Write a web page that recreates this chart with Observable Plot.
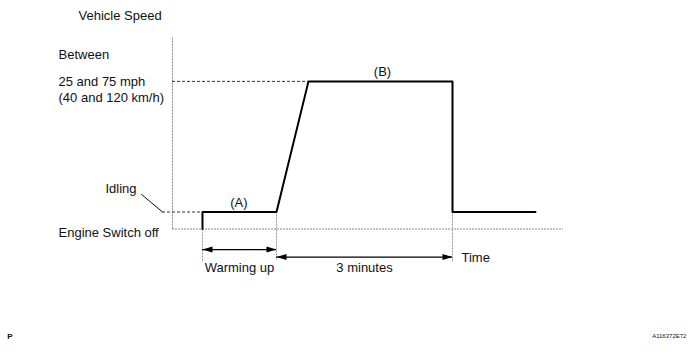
<!DOCTYPE html>
<html>
<head>
<meta charset="utf-8">
<script src="https://cdn.jsdelivr.net/npm/d3@7"></script>
<script src="https://cdn.jsdelivr.net/npm/@observablehq/plot@0.6"></script>
<style>
  html, body { margin: 0; padding: 0; background: #fff; }
</style>
</head>
<body>
<div id="chart"></div>
<script>
// Time in minutes (schematic), speed as schematic level (0 = engine off, 1 = idling)
const timeMin    = [0.511, 0.511, 1.773, 2.318, 4.773, 4.773, 6.187];
const speedLevel = [0,     1,     1,     8.68,  8.68,  1,     1];

const axisEndTime = 6.665;
const axisTopLevel = 11.26;
const idleLevel = 1;
const targetLevel = 8.68;
const warmStart = 0.511, warmEnd = 1.773, driveEnd = 4.773, rampEnd = 2.318;

// left-side level labels
const levelLabels = ["Between", "25 and 75 mph", "(40 and 120 km/h)", "Engine Switch off"];
const levelLabelY = [10.26, 8.68, 7.74, -0.21];

const mainLine = timeMin.map((t, i) => ({t, v: speedLevel[i]}));

const guides = [
  {t: warmStart, v1: 0, v2: -1.97},
  {t: warmEnd, v1: idleLevel, v2: -1.85},
  {t: driveEnd, v1: idleLevel, v2: -1.97}
];

const spans = [
  {t1: warmStart, t2: warmEnd, v: -1.21, label: "Warming up"},
  {t1: warmEnd, t2: driveEnd, v: -1.65, label: "3 minutes"}
];

const headRight = {draw(ctx) { ctx.moveTo(0, 0); ctx.lineTo(-10, -3); ctx.lineTo(-10, 3); ctx.closePath(); }};
const headLeft  = {draw(ctx) { ctx.moveTo(0, 0); ctx.lineTo(10, -3); ctx.lineTo(10, 3); ctx.closePath(); }};

const font = "'Liberation Sans', Arial, Helvetica, sans-serif";

const chart = Plot.plot({
  width: 693,
  height: 352,
  marginLeft: 172,
  marginRight: 130,
  marginTop: 37,
  marginBottom: 123.5,
  x: {domain: [0, axisEndTime], axis: null},
  y: {domain: [0, axisTopLevel], axis: null},
  style: {fontFamily: font, fontSize: "13px", background: "#fff", color: "#111", overflow: "visible"},
  marks: [
    // axes (dotted)
    Plot.ruleX([0], {y1: 0, y2: axisTopLevel, stroke: "#888", strokeWidth: 1, strokeDasharray: "2,1"}),
    Plot.ruleY([0], {x1: 0, x2: axisEndTime, stroke: "#888", strokeWidth: 1, strokeDasharray: "2,1"}),
    // vertical guides
    Plot.ruleX(guides, {x: "t", y1: "v1", y2: "v2", stroke: "#999", strokeWidth: 1, strokeDasharray: "2,1"}),
    // dashed reference levels
    Plot.ruleY([targetLevel], {x1: 0, x2: rampEnd, stroke: "#333", strokeWidth: 1, strokeDasharray: "3,2"}),
    Plot.ruleY([idleLevel], {x1: -0.17, x2: warmStart, stroke: "#333", strokeWidth: 1, strokeDasharray: "3,2"}),
    // Idling leader
    Plot.line([{t: -0.528, v: 2.03}, {t: -0.17, v: 1}], {x: "t", y: "v", stroke: "#111", strokeWidth: 1}),
    // main speed trace
    Plot.line(mainLine, {x: "t", y: "v", stroke: "#000", strokeWidth: 2, curve: "linear"}),
    // arrows
    Plot.ruleY(spans, {x1: "t1", x2: "t2", y: "v", stroke: "#000", strokeWidth: 1.2}),
    Plot.dot(spans, {x: "t2", y: "v", symbol: headRight, fill: "#000", stroke: "none"}),
    Plot.dot(spans, {x: "t1", y: "v", symbol: headLeft, fill: "#000", stroke: "none"}),
    Plot.text(spans, {x: d => (d.t1 + d.t2) / 2, y: () => -2.26, text: "label", fontSize: 13, fill: "#111"}),
    // labels
    Plot.text(["Vehicle Speed"], {x: () => -1.602, y: () => 12.56, text: d => d, textAnchor: "start", fontSize: 13, fill: "#111"}),
    Plot.text(levelLabels, {x: () => -1.943, y: (d, i) => levelLabelY[i], text: d => d, textAnchor: "start", fontSize: 13, fill: "#111"}),
    Plot.text(["Idling"], {x: () => -1.142, y: () => 2.38, text: d => d, textAnchor: "start", fontSize: 13, fill: "#111"}),
    Plot.text(["(A)"], {x: () => 1.133, y: () => 1.56, text: d => d, fontSize: 13, fill: "#111"}),
    Plot.text(["(B)"], {x: () => 3.58, y: () => 9.26, text: d => d, fontSize: 13, fill: "#111"}),
    Plot.text(["Time"], {x: () => 4.926, y: () => -1.68, text: d => d, textAnchor: "start", fontSize: 13, fill: "#111"}),
    Plot.text(["P"], {x: () => -2.77, y: () => -6.32, text: d => d, fontSize: 8, fontWeight: "bold", fill: "#111"}),
    Plot.text(["A116372E72"], {x: () => 8.76, y: () => -6.3, text: d => d, textAnchor: "end", fontSize: 6, fill: "#111"})
  ]
});
document.getElementById("chart").appendChild(chart);
</script>
</body>
</html>
